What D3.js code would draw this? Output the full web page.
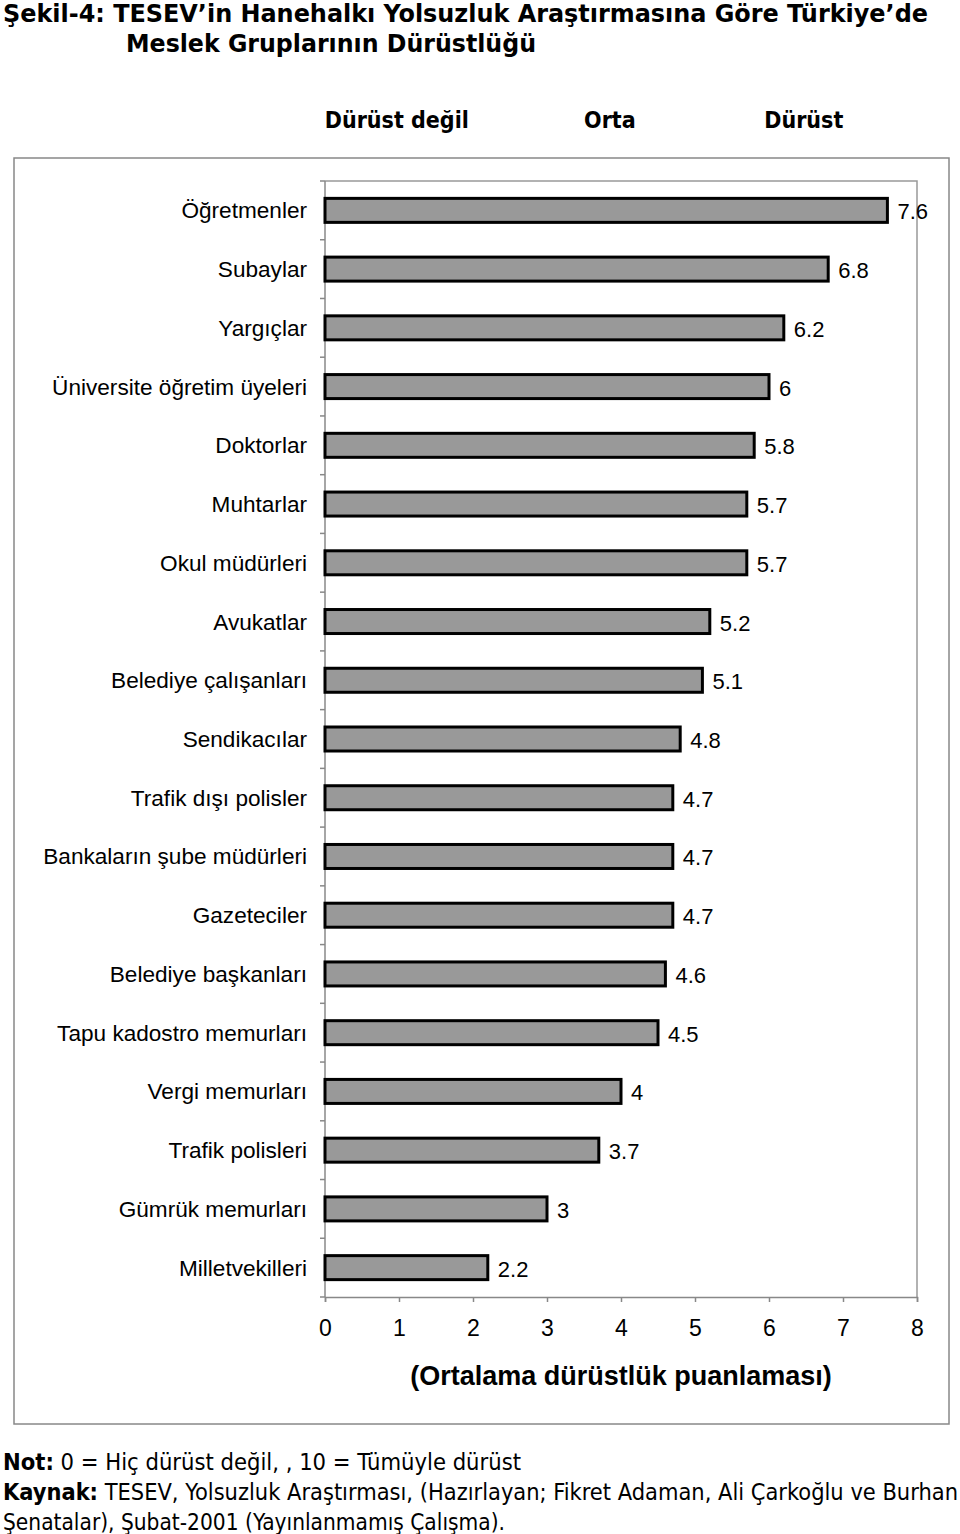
<!DOCTYPE html>
<html>
<head>
<meta charset="utf-8">
<script src="https://cdn.jsdelivr.net/npm/d3@7"></script>
<style>
  body { margin: 0; background: #fff; }
  svg { display: block; }
</style>
</head>
<body>
<svg width="960" height="1534"></svg>
<script>
const categories = ['Öğretmenler', 'Subaylar', 'Yargıçlar', 'Üniversite öğretim üyeleri', 'Doktorlar',
  'Muhtarlar', 'Okul müdürleri', 'Avukatlar', 'Belediye çalışanları', 'Sendikacılar',
  'Trafik dışı polisler', 'Bankaların şube müdürleri', 'Gazeteciler', 'Belediye başkanları',
  'Tapu kadostro memurları', 'Vergi memurları', 'Trafik polisleri', 'Gümrük memurları', 'Milletvekilleri']
const values = [7.6, 6.8, 6.2, 6, 5.8, 5.7, 5.7, 5.2, 5.1, 4.8, 4.7, 4.7, 4.7, 4.6, 4.5, 4, 3.7, 3, 2.2]
const xTicks = [0, 1, 2, 3, 4, 5, 6, 7, 8]
const headers = [['Dürüst değil', 0.97], ['Orta', 3.85], ['Dürüst', 6.47]]

const svg = d3.select('svg')
const condensed = '"DejaVu Sans Condensed", "DejaVu Sans", sans-serif'
const arial = '"Liberation Sans", Arial, sans-serif'

const x = d3.scaleLinear().domain([0, 8]).range([325, 917])
const y = d3.scaleBand().domain(categories).range([181, 1297])

// title
svg.append('text').attr('x', 3).attr('y', 22)
    .attr('font-family', condensed).attr('font-weight', 'bold').attr('font-size', 25)
    .attr('textLength', 925).attr('lengthAdjust', 'spacingAndGlyphs')
    .text('Şekil-4: TESEV’in Hanehalkı Yolsuzluk Araştırmasına Göre Türkiye’de')
svg.append('text').attr('x', 126).attr('y', 52)
    .attr('font-family', condensed).attr('font-weight', 'bold').attr('font-size', 25)
    .attr('textLength', 410).attr('lengthAdjust', 'spacingAndGlyphs')
    .text('Meslek Gruplarının Dürüstlüğü')

// header labels
svg.selectAll('text.head').data(headers).enter().append('text')
    .attr('class', 'head')
    .attr('x', d => x(d[1]))
    .attr('y', 128)
    .attr('text-anchor', 'middle')
    .attr('font-family', condensed).attr('font-weight', 'bold').attr('font-size', 23)
    .text(d => d[0])

// outer frame
svg.append('rect').attr('x', 14).attr('y', 158).attr('width', 935).attr('height', 1266)
    .attr('fill', 'none').attr('stroke', '#888').attr('stroke-width', 1.5)

// plot frame (top + right)
svg.append('path')
    .attr('d', `M${x(0)},${y.range()[0]}H${x(8)}V${y.range()[1]}`)
    .attr('fill', 'none').attr('stroke', '#999').attr('stroke-width', 1.5)

// y axis
const yAxis = svg.append('g')
const yTickPos = categories.map(c => y(c)).concat([y.range()[1]])
yAxis.append('line').attr('x1', x(0)).attr('x2', x(0))
    .attr('y1', y.range()[0]).attr('y2', y.range()[1])
    .attr('stroke', '#888').attr('stroke-width', 1.5)
yAxis.selectAll('line.t').data(yTickPos).enter().append('line')
    .attr('class', 't')
    .attr('x1', x(0) - 5).attr('x2', x(0))
    .attr('y1', d => d).attr('y2', d => d)
    .attr('stroke', '#888').attr('stroke-width', 1.5)

// x axis
const xAxis = d3.axisBottom(x).tickValues(xTicks).tickSize(5).tickPadding(18).tickFormat(d3.format('d'))
const gx = svg.append('g').attr('transform', `translate(0,${y.range()[1]})`).call(xAxis)
gx.select('.domain').attr('stroke', '#888').attr('stroke-width', 1.5)
gx.selectAll('.tick line').attr('stroke', '#888').attr('stroke-width', 1.5)
gx.selectAll('.tick text').attr('font-family', arial).attr('font-size', 23).attr('fill', '#000')

svg.append('text').attr('x', 621).attr('y', 1385).attr('text-anchor', 'middle')
    .attr('font-family', arial).attr('font-weight', 'bold').attr('font-size', 27)
    .text('(Ortalama dürüstlük puanlaması)')

// category labels
svg.selectAll('text.cat').data(categories).enter().append('text')
    .attr('class', 'cat')
    .attr('x', 307)
    .attr('y', d => y(d) + y.bandwidth() / 2 + 8)
    .attr('text-anchor', 'end')
    .attr('font-family', arial).attr('font-size', 22.6)
    .text(d => d)

// bars
const barH = 24
svg.selectAll('rect.bar').data(values).enter().append('rect')
    .attr('class', 'bar')
    .attr('x', x(0))
    .attr('y', (d, i) => y(categories[i]) + y.bandwidth() / 2 - barH / 2)
    .attr('width', d => x(d) - x(0))
    .attr('height', barH)
    .attr('fill', '#999999')
    .attr('stroke', '#000').attr('stroke-width', 3)

svg.selectAll('text.val').data(values).enter().append('text')
    .attr('class', 'val')
    .attr('x', d => x(d) + 10)
    .attr('y', (d, i) => y(categories[i]) + y.bandwidth() / 2 + 9)
    .attr('font-family', arial).attr('font-size', 22)
    .text(d => d)

// footer notes
const foot = svg.append('g').attr('font-family', condensed).attr('font-size', 23)
const n1 = foot.append('text').attr('x', 3).attr('y', 1470)
    .attr('textLength', 518).attr('lengthAdjust', 'spacingAndGlyphs')
n1.append('tspan').attr('font-weight', 'bold').text('Not:')
n1.append('tspan').text(' 0 = Hiç dürüst değil, , 10 = Tümüyle dürüst')
const n2 = foot.append('text').attr('x', 3).attr('y', 1500)
    .attr('textLength', 955).attr('lengthAdjust', 'spacingAndGlyphs')
n2.append('tspan').attr('font-weight', 'bold').text('Kaynak:')
n2.append('tspan').text(' TESEV, Yolsuzluk Araştırması, (Hazırlayan; Fikret Adaman, Ali Çarkoğlu ve Burhan')
foot.append('text').attr('x', 3).attr('y', 1530)
    .attr('textLength', 502).attr('lengthAdjust', 'spacingAndGlyphs')
    .text('Şenatalar), Şubat-2001 (Yayınlanmamış Çalışma).')
</script>
</body>
</html>
